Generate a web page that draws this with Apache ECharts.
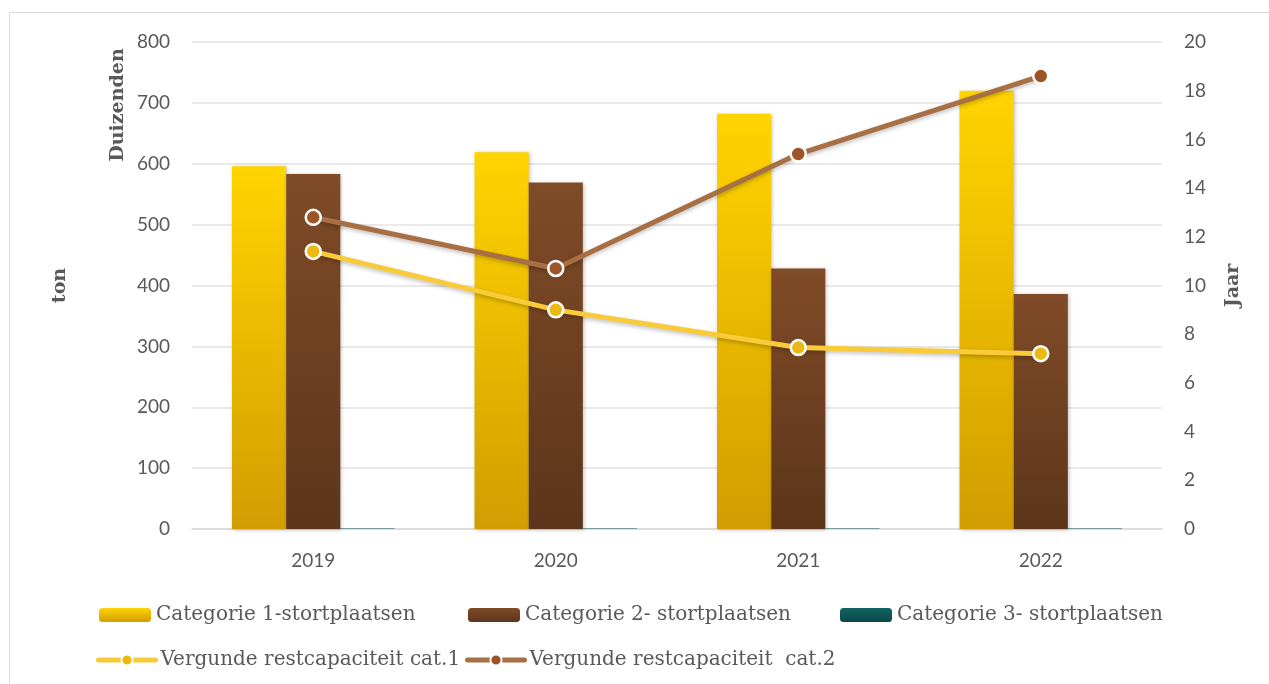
<!DOCTYPE html>
<html>
<head>
<meta charset="utf-8">
<script src="https://cdn.jsdelivr.net/npm/echarts@6/dist/echarts.min.js"></script>
<style>
  html, body { margin: 0; padding: 0; background: #fff; }
  #main { width: 1269px; height: 684px; }
</style>
</head>
<body>
<div id="main"></div>
<script>
// data
const years = ['2019', '2020', '2021', '2022'];
const cat1 = [596, 619, 682, 720];
const cat2 = [583, 569, 428, 386];
const cat3 = [1, 1, 1, 1];
const rest1 = [11.4, 9.0, 7.45, 7.2];
const rest2 = [12.8, 10.7, 15.4, 18.6];

const names = ['Categorie 1-stortplaatsen', 'Categorie 2- stortplaatsen', 'Categorie 3- stortplaatsen',
  'Vergunde restcapaciteit cat.1', 'Vergunde restcapaciteit  cat.2'];

const sans = 'Lato';
const serif = 'DejaVu Serif';
const grey = '#595959';

function grad(top, bottom) {
  return new echarts.graphic.LinearGradient(0, 0, 0, 1, [
    { offset: 0, color: top },
    { offset: 1, color: bottom }
  ]);
}

function legendAt(name, left, top, isLine) {
  return {
    data: [name],
    left: left,
    top: top,
    itemWidth: isLine ? 57 : 52,
    itemHeight: 14,
    itemGap: 5,
    padding: 0,
    lineStyle: { width: 5, cap: 'round' },
    textStyle: { fontFamily: serif, fontSize: 20, color: grey }
  };
}

let myChart = echarts.init(document.getElementById('main'));
myChart.setOption({
  backgroundColor: '#fff',
  animation: false,
  grid: { left: 192, right: 107, top: 42, bottom: 155 },
  legend: [
    legendAt(names[0], 99, 605),
    legendAt(names[1], 468, 605),
    legendAt(names[2], 840, 605),
    legendAt(names[3], 96, 650, true),
    legendAt(names[4], 465, 650, true)
  ],
  graphic: [
    {
      type: 'rect', z: -1, silent: true,
      shape: { x: 9.5, y: 12.5, width: 1300, height: 700 },
      style: { fill: 'none', stroke: '#d9d9d9', lineWidth: 1 }
    },
    {
      type: 'text', x: 118, y: 105, rotation: Math.PI / 2,
      style: {
        text: 'Duizenden', fontFamily: serif, fontWeight: 'bold', fontSize: 19,
        fill: grey, align: 'center', verticalAlign: 'middle'
      }
    }
  ],
  xAxis: {
    type: 'category',
    data: years,
    axisTick: { show: false },
    axisLine: { lineStyle: { color: '#d9d9d9', width: 1.5 } },
    axisLabel: { fontFamily: sans, fontSize: 19, color: grey, margin: 22 }
  },
  yAxis: [
    {
      type: 'value',
      min: 0, max: 800, interval: 100,
      name: 'ton',
      nameLocation: 'middle',
      nameGap: 122,
      nameTextStyle: { fontFamily: serif, fontWeight: 'bold', fontSize: 19, color: grey },
      axisLine: { show: false },
      axisTick: { show: false },
      axisLabel: { fontFamily: sans, fontSize: 19, color: grey, margin: 22 },
      splitLine: { lineStyle: { color: '#e3e3e3', width: 1.5 } }
    },
    {
      type: 'value',
      min: 0, max: 20, interval: 2,
      name: 'Jaar',
      nameLocation: 'middle',
      nameGap: 62,
      nameTextStyle: { fontFamily: serif, fontWeight: 'bold', fontSize: 19, color: grey },
      axisLine: { show: false },
      axisTick: { show: false },
      axisLabel: { fontFamily: sans, fontSize: 19, color: grey, margin: 22 },
      splitLine: { show: false }
    }
  ],
  series: [
    {
      name: names[0], type: 'bar', data: cat1,
      barGap: '0%', barCategoryGap: '33%',
      itemStyle: {
        color: grad('#ffd400', '#d29d00'),
        shadowColor: 'rgba(0,0,0,0.25)', shadowBlur: 4, shadowOffsetX: 1, shadowOffsetY: 1
      }
    },
    {
      name: names[1], type: 'bar', data: cat2,
      itemStyle: {
        color: grad('#804b27', '#5c351a'),
        shadowColor: 'rgba(0,0,0,0.25)', shadowBlur: 4, shadowOffsetX: 1, shadowOffsetY: 1
      }
    },
    {
      name: names[2], type: 'bar', data: cat3,
      itemStyle: { color: grad('#136565', '#0a4747') }
    },
    {
      name: names[3], type: 'line', yAxisIndex: 1, data: rest1,
      symbol: 'circle', symbolSize: 15,
      itemStyle: { color: '#ebb912', borderColor: '#fff', borderWidth: 2.5 },
      lineStyle: {
        color: '#f9cb38', width: 5,
        shadowColor: 'rgba(0,0,0,0.25)', shadowBlur: 4, shadowOffsetY: 2
      }
    },
    {
      name: names[4], type: 'line', yAxisIndex: 1, data: rest2,
      symbol: 'circle', symbolSize: 15,
      itemStyle: { color: '#9c5428', borderColor: '#fff', borderWidth: 2.5 },
      lineStyle: {
        color: '#a86f44', width: 5,
        shadowColor: 'rgba(0,0,0,0.25)', shadowBlur: 4, shadowOffsetY: 2
      }
    }
  ]
});
</script>
</body>
</html>
